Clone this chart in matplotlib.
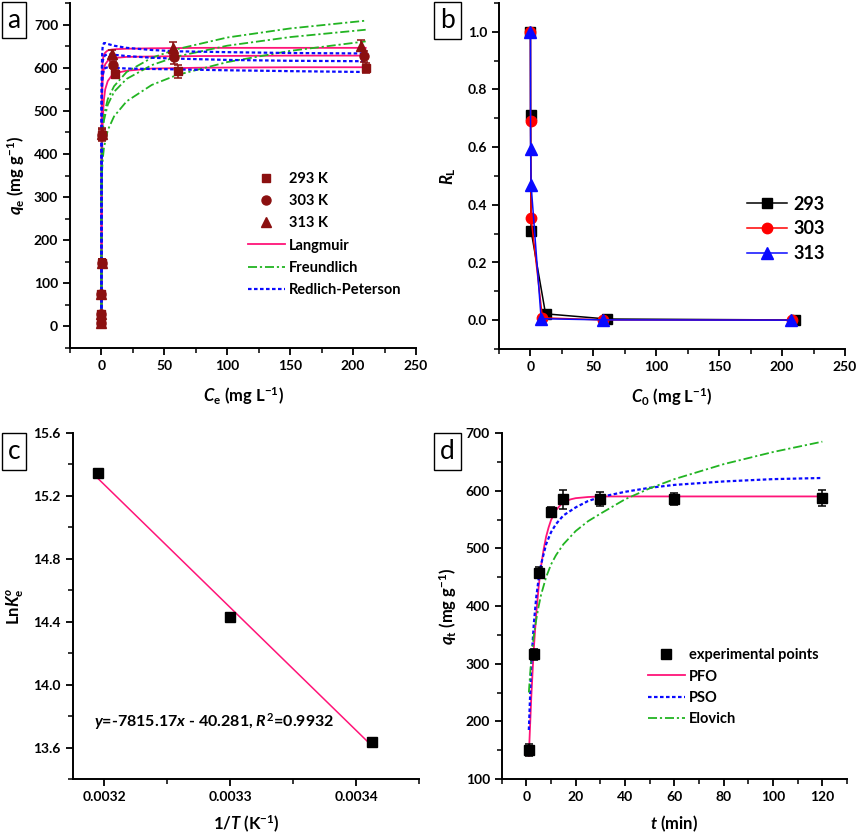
import matplotlib
matplotlib.use("Agg")
import matplotlib.pyplot as plt
from matplotlib.patches import Rectangle
from matplotlib.ticker import MultipleLocator, FormatStrFormatter
from matplotlib import font_manager

FONT = "Lato"
_names = {f.name for f in font_manager.fontManager.ttflist}
TICKFONT = "Liberation Sans Narrow" if "Liberation Sans Narrow" in _names else FONT

plt.rcParams['font.family'] = [FONT, 'DejaVu Sans']
plt.rcParams['font.weight'] = 'bold'
plt.rcParams['mathtext.fontset'] = 'custom'
plt.rcParams['mathtext.it'] = FONT + ':italic:bold'
plt.rcParams['mathtext.rm'] = FONT + ':bold'
plt.rcParams['mathtext.bf'] = FONT + ':bold'

# ---------------- Panel a data ----------------
a_c293 = [0.0, 0.01, 0.02, 0.05, 0.2, 10.5, 60.5, 210.0]
a_q293 = [8, 30, 75, 148, 443, 585, 592, 600]
a_e293 = [6, 6, 6, 8, 12, 10, 15, 12]
a_c303 = [0.0, 0.01, 0.02, 0.05, 0.2, 9.2, 57.8, 208.5]
a_q303 = [8, 30, 75, 148, 445, 607, 624, 626]
a_e303 = [6, 6, 6, 8, 12, 8, 15, 12]
a_c313 = [0.0, 0.01, 0.02, 0.05, 0.2, 8.0, 56.7, 206.5]
a_q313 = [8, 30, 75, 148, 447, 632, 645, 651]
a_e313 = [6, 6, 6, 8, 12, 8, 15, 13]

lang_c = [0, 0.01, 0.02, 0.05, 0.1, 0.2, 0.4, 0.7, 1, 1.5, 2, 3, 5, 8, 12, 20, 40, 80, 150, 210]
lang_293 = [0, 20, 39, 90, 156, 248, 351, 428, 468, 506, 527, 550, 569, 581, 588, 593, 598, 600, 601, 601]
lang_303 = [0, 57, 105, 209, 314, 419, 502, 550, 571, 589, 598, 608, 616, 620, 623, 625, 626, 627, 628, 628]
lang_313 = [0, 108, 185, 323, 431, 517, 574, 603, 615, 625, 630, 635, 640, 642, 643, 644, 645, 646, 646, 646]

freu_c = [0, 0.001, 0.01, 0.1, 0.5, 1, 2, 5, 10, 20, 40, 60, 100, 150, 210]
freu_1 = [0, 200, 244, 307, 361, 387, 415, 455, 487, 522, 560, 583, 613, 639, 661]
freu_2 = [0, 260, 316, 378, 428, 452, 478, 514, 544, 574, 606, 626, 651, 671, 688]
freu_3 = [0, 270, 322, 386, 439, 462, 490, 527, 557, 590, 623, 643, 670, 691, 709]

rp_c = [0, 0.01, 0.05, 0.1, 0.3, 0.6, 1, 2, 3, 5, 10, 20, 40, 60, 100, 150, 210]
rp_1 = [0, 100, 280, 400, 520, 565, 583, 595, 599, 601, 600, 598, 597, 596, 594, 592, 590]
rp_2 = [0, 120, 330, 450, 560, 600, 615, 625, 629, 631, 630, 627, 623, 621, 618, 616, 615]
rp_3 = [0, 150, 380, 500, 600, 635, 650, 657, 657, 655, 651, 646, 641, 638, 636, 634, 633]

# ---------------- Panel b data ----------------
b_c293 = [0.0, 0.1, 0.5, 12.0, 61.0, 210.0]
b_r293 = [1.0, 0.71, 0.31, 0.022, 0.004, 0.0007]
b_c303 = [0.0, 0.1, 0.5, 9.5, 58.0, 208.0]
b_r303 = [1.0, 0.69, 0.355, 0.008, 0.001, 0.0003]
b_c313 = [0.0, 0.1, 0.5, 8.5, 58.0, 207.0]
b_r313 = [1.0, 0.595, 0.47, 0.005, 0.001, 0.0002]

# ---------------- Panel c data ----------------
c_invT = [0.0031949, 0.0033003, 0.0034130]
c_lnK = [15.344, 14.432, 13.635]
c_fit_x = [0.0031949, 0.0034130]
c_fit_y = [15.312, 13.608]
c_eq = r"$y$=-7815.17$x$ - 40.281, $R^{2}$=0.9932"

# ---------------- Panel d data ----------------
d_t = [1, 3, 5, 10, 15, 30, 60, 120]
d_q = [150, 316, 458, 563, 585, 585, 586, 587]
d_e = [10, 10, 10, 8, 17, 12, 10, 14]
pfo_t = [1, 2, 3, 4, 5, 6, 7, 8, 9, 10, 12, 14, 16, 18, 20, 25, 30, 60, 120]
pfo_q = [140, 243, 325, 386, 434, 470, 498, 520, 536, 549, 566, 576, 582, 585, 587, 589, 590, 590, 590]
pso_t = [1, 2, 3, 4, 5, 6, 8, 10, 12, 15, 20, 25, 30, 40, 50, 60, 80, 100, 120]
pso_q = [185, 300, 368, 415, 448, 473, 507, 528, 542, 557, 571, 582, 589, 598, 605, 610, 616, 620, 622]
elo_t = [1, 2, 3, 4, 5, 6, 8, 10, 12, 15, 20, 25, 30, 40, 50, 60, 80, 100, 120]
elo_q = [250, 310, 348, 376, 400, 420, 450, 472, 488, 507, 530, 547, 560, 585, 604, 620, 646, 667, 685]

PINK = '#FF1478'
GREEN = '#22B422'
BLUE = '#0A0AFF'
DRED = '#8B1010'
DOT = (0, (1.6, 1.1))
DASHDOT = (0, (5, 1.6, 1.2, 1.6))
TICKSIZE = 11.5 if TICKFONT != FONT else 10
LABELSIZE = 12

W, H = 856, 839
fig = plt.figure(figsize=(W / 100, H / 100), dpi=100)


def ax_at(x0, y0, x1, y1):
    return fig.add_axes([x0 / W, 1 - y1 / H, (x1 - x0) / W, (y1 - y0) / H])


def style(ax):
    for s in ['top', 'right']:
        ax.spines[s].set_visible(False)
    for s in ['left', 'bottom']:
        ax.spines[s].set_linewidth(1.4)
    ax.tick_params(which='major', direction='out', length=5, width=1.3, labelsize=TICKSIZE)
    ax.tick_params(which='minor', direction='out', length=3.5, width=1.1)
    for lab in ax.get_xticklabels() + ax.get_yticklabels():
        lab.set_fontweight('bold')
        lab.set_family(TICKFONT)


def panel_box(x0, y0, x1, y1, letter):
    fig.patches.append(Rectangle((x0 / W, 1 - y1 / H), (x1 - x0) / W, (y1 - y0) / H,
                                 transform=fig.transFigure, fill=False, lw=1.0, ec='black'))
    fig.text((x0 + x1) / 2 / W, 1 - (y0 + y1) / 2 / H, letter, ha='center', va='center',
             fontsize=19, fontweight='normal', family=FONT)


# ---------------- Panel a ----------------
axa = ax_at(70, 3, 416, 348)
axa.plot(lang_c, lang_293, color=PINK, lw=1.3, zorder=2, label='Langmuir')
axa.plot(lang_c, lang_303, color=PINK, lw=1.3, zorder=2)
axa.plot(lang_c, lang_313, color=PINK, lw=1.3, zorder=2)
axa.plot(freu_c, freu_1, color=GREEN, lw=1.3, ls=DASHDOT, zorder=2, label='Freundlich')
axa.plot(freu_c, freu_2, color=GREEN, lw=1.3, ls=DASHDOT, zorder=2)
axa.plot(freu_c, freu_3, color=GREEN, lw=1.3, ls=DASHDOT, zorder=2)
axa.plot(rp_c, rp_1, color=BLUE, lw=1.6, ls=DOT, zorder=2, label='Redlich-Peterson')
axa.plot(rp_c, rp_2, color=BLUE, lw=1.6, ls=DOT, zorder=2)
axa.plot(rp_c, rp_3, color=BLUE, lw=1.6, ls=DOT, zorder=2)
for c, q, e in [(a_c293, a_q293, a_e293), (a_c303, a_q303, a_e303), (a_c313, a_q313, a_e313)]:
    axa.errorbar(c, q, yerr=e, fmt='none', ecolor=DRED, elinewidth=1.1, capsize=3, capthick=1.1, zorder=3)
axa.plot(a_c293, a_q293, 's', color=DRED, ms=6, ls='none', zorder=4, label='293 K')
axa.plot(a_c303, a_q303, 'o', color=DRED, ms=6.5, ls='none', zorder=4, label='303 K')
axa.plot(a_c313, a_q313, '^', color=DRED, ms=7, ls='none', zorder=4, label='313 K')
axa.set_xlim(-25, 250)
axa.set_ylim(-50, 750)
axa.xaxis.set_major_locator(MultipleLocator(50))
axa.xaxis.set_minor_locator(MultipleLocator(25))
axa.yaxis.set_major_locator(MultipleLocator(100))
axa.yaxis.set_minor_locator(MultipleLocator(50))
axa.set_ylim(-50, 750)
style(axa)
axa.set_xlabel(r"$C_\mathrm{e}$ (mg L$^{-1}$)", fontsize=LABELSIZE, fontweight='bold', labelpad=10)
axa.set_ylabel(r"$q_\mathrm{e}$ (mg g$^{-1}$)", fontsize=LABELSIZE, fontweight='bold', labelpad=5)
hs, ls_ = axa.get_legend_handles_labels()
order = [ls_.index(n) for n in ['293 K', '303 K', '313 K', 'Langmuir', 'Freundlich', 'Redlich-Peterson']]
axa.legend([hs[i] for i in order], [ls_[i] for i in order], loc='upper left',
           bbox_to_anchor=(0.515, 0.51), frameon=False, handlelength=2.5,
           handletextpad=0.3, labelspacing=0.56, borderpad=0, borderaxespad=0,
           prop={'family': FONT, 'weight': 'bold', 'size': 10.5})

# ---------------- Panel b ----------------
axb = ax_at(499, 3, 845, 349)
axb.plot(b_c293, b_r293, '-s', color='black', ms=7, lw=1.1, label='293')
axb.plot(b_c303, b_r303, '-o', color='#FF0000', ms=7.5, lw=1.1, label='303')
axb.plot(b_c313, b_r313, '-^', color=BLUE, ms=8, lw=1.1, label='313')
axb.set_xlim(-25, 250)
axb.set_ylim(-0.1, 1.1)
axb.xaxis.set_major_locator(MultipleLocator(50))
axb.xaxis.set_minor_locator(MultipleLocator(25))
axb.yaxis.set_major_locator(MultipleLocator(0.2))
axb.yaxis.set_minor_locator(MultipleLocator(0.1))
axb.yaxis.set_major_formatter(FormatStrFormatter('%.1f'))
style(axb)
axb.set_xlabel(r"$C_0$ (mg L$^{-1}$)", fontsize=LABELSIZE, fontweight='bold', labelpad=10)
axb.set_ylabel(r"$R_\mathrm{L}$", fontsize=LABELSIZE, fontweight='bold', labelpad=7)
axb.legend(loc='upper left', bbox_to_anchor=(0.717, 0.443), frameon=False,
           handlelength=2.2, handletextpad=0.35, labelspacing=0.42, borderpad=0, borderaxespad=0,
           prop={'family': FONT, 'weight': 'bold', 'size': 13})

# ---------------- Panel c ----------------
axc = ax_at(72.7, 433, 419, 779)
axc.plot(c_fit_x, c_fit_y, color=PINK, lw=1.1)
axc.plot(c_invT, c_lnK, 's', color='black', ms=6.5, ls='none')
axc.set_xlim(0.003175, 0.00345)
axc.set_ylim(13.4, 15.6)
axc.xaxis.set_major_locator(MultipleLocator(0.0001))
axc.xaxis.set_minor_locator(MultipleLocator(0.00005))
axc.xaxis.set_major_formatter(FormatStrFormatter('%.4f'))
axc.yaxis.set_major_locator(MultipleLocator(0.4))
axc.yaxis.set_minor_locator(MultipleLocator(0.2))
axc.yaxis.set_major_formatter(FormatStrFormatter('%.1f'))
style(axc)
axc.set_xlabel(r"1/$T$ (K$^{-1}$)", fontsize=LABELSIZE, fontweight='bold', labelpad=8)
axc.set_ylabel(r"Ln$K_\mathrm{e}^{o}$", fontsize=LABELSIZE, fontweight='bold', labelpad=5)
axc.text(0.003192, 13.73, c_eq, fontsize=11.5, fontweight='bold', ha='left', va='baseline')

# ---------------- Panel d ----------------
axd = ax_at(501.7, 433, 847, 779)
axd.plot(pfo_t, pfo_q, color=PINK, lw=1.3, label='PFO', zorder=2)
axd.plot(pso_t, pso_q, color=BLUE, lw=1.6, ls=DOT, label='PSO', zorder=2)
axd.plot(elo_t, elo_q, color=GREEN, lw=1.3, ls=DASHDOT, label='Elovich', zorder=2)
axd.errorbar(d_t, d_q, yerr=d_e, fmt='none', ecolor='black', elinewidth=1.1, capsize=3, capthick=1.1, zorder=3)
axd.plot(d_t, d_q, 's', color='black', ms=7, ls='none', zorder=4, label='experimental points')
axd.set_xlim(-10, 130)
axd.set_ylim(100, 700)
axd.xaxis.set_major_locator(MultipleLocator(20))
axd.xaxis.set_minor_locator(MultipleLocator(10))
axd.yaxis.set_major_locator(MultipleLocator(100))
axd.yaxis.set_minor_locator(MultipleLocator(50))
style(axd)
axd.set_xlabel(r"$t$ (min)", fontsize=LABELSIZE, fontweight='bold', labelpad=8)
axd.set_ylabel(r"$q_\mathrm{t}$ (mg g$^{-1}$)", fontsize=LABELSIZE, fontweight='bold', labelpad=5)
hs, ls_ = axd.get_legend_handles_labels()
order = [ls_.index(n) for n in ['experimental points', 'PFO', 'PSO', 'Elovich']]
axd.legend([hs[i] for i in order], [ls_[i] for i in order], loc='upper left',
           bbox_to_anchor=(0.424, 0.378), frameon=False, handlelength=2.5,
           handletextpad=0.3, labelspacing=0.5, borderpad=0, borderaxespad=0,
           prop={'family': FONT, 'weight': 'bold', 'size': 10.5})

panel_box(2, 2, 26, 38, 'a')
panel_box(434, 2, 461, 39, 'b')
panel_box(2, 433, 26, 470, 'c')
panel_box(434, 433, 461, 470, 'd')

fig.savefig('out.png', dpi=100)
